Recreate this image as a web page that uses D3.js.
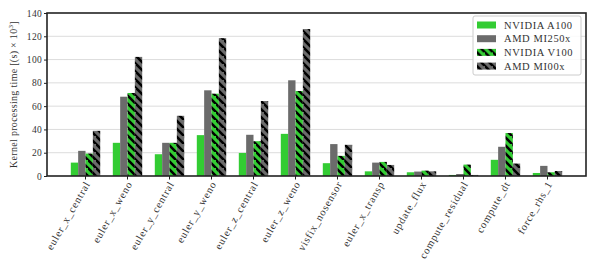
<!DOCTYPE html>
<html>
<head>
<meta charset="utf-8">
<script src="https://cdn.jsdelivr.net/npm/d3@7"></script>
<style>
  body { margin: 0; background: #fff; }
  svg text { font-family: "Liberation Serif", "DejaVu Serif", serif; fill: #333; }
</style>
</head>
<body>
<div id="chart"></div>
<script>
// kernels on the x axis
const kernels = ["euler_x_central", "euler_x_weno", "euler_y_central", "euler_y_weno",
  "euler_z_central", "euler_z_weno", "visfix_nosensor", "euler_x_transp",
  "update_flux", "compute_residual", "compute_dt", "force_rhs_1"];

const series = ["NVIDIA A100", "AMD MI250x", "NVIDIA V100", "AMD MI00x"];

// values (x 10^3)
const a100   = [11.5, 28.5, 18.7, 35.1, 19.8, 36.2, 11.0, 4.0, 3.2, 0.9, 13.9, 2.6];
const mi250x = [21.6, 68.1, 28.5, 73.6, 35.4, 82.2, 27.4, 11.5, 3.8, 1.7, 25.1, 8.7];
const v100   = [19.3, 71.3, 28.5, 70.7, 29.9, 73.0, 17.3, 12.1, 4.6, 9.8, 36.9, 3.2];
const mi00x  = [38.8, 102.3, 51.7, 118.4, 64.4, 126.2, 26.8, 9.5, 4.0, 0.9, 10.7, 4.3];

const yTicks = [0, 20, 40, 60, 80, 100, 120, 140];

const W = 597, H = 263;
const m = { left: 47, right: 11, top: 13, bottom: 87 };
const GREEN = "#33cc33", GREY = "#6b6b6b";

const svg = d3.select("#chart").append("svg")
  .attr("width", W).attr("height", H);

// hatch patterns
const defs = svg.append("defs");
[["hatchGreen", GREEN], ["hatchGrey", GREY]].forEach(([id, col]) => {
  const p = defs.append("pattern").attr("id", id)
    .attr("patternUnits", "userSpaceOnUse")
    .attr("width", 8).attr("height", 8);
  p.append("rect").attr("width", 8).attr("height", 8).attr("fill", col);
  p.append("path").attr("d", "M-2,-2 L10,10 M-6,2 L2,10 M6,-6 L14,2")
    .attr("stroke", "#000").attr("stroke-width", 2.6);
});

const fills = [GREEN, GREY, "url(#hatchGreen)", "url(#hatchGrey)"];
const values = [a100, mi250x, v100, mi00x];

const x = d3.scaleBand().domain(kernels)
  .range([m.left, W - m.right]).paddingInner(0).paddingOuter(0.417);
const xs = d3.scaleBand().domain(series)
  .range([x.bandwidth() * 0.15, x.bandwidth() * 0.85]);
const y = d3.scaleLinear().domain([0, 140]).range([H - m.bottom, m.top]);

// grid
svg.append("g")
  .selectAll("line").data(yTicks.slice(1, -1)).join("line")
  .attr("x1", m.left).attr("x2", W - m.right)
  .attr("y1", d => y(d)).attr("y2", d => y(d))
  .attr("stroke", "#dcdcdc").attr("stroke-width", 1);

// bars
series.forEach((s, si) => {
  svg.append("g").selectAll("rect").data(kernels).join("rect")
    .attr("x", (k) => x(k) + xs(s))
    .attr("width", xs.bandwidth())
    .attr("y", (k, i) => y(values[si][i]))
    .attr("height", (k, i) => y(0) - y(values[si][i]))
    .attr("fill", fills[si]);
});

// axes
const yAxis = svg.append("g")
  .attr("transform", `translate(${m.left},0)`)
  .call(d3.axisLeft(y).tickValues(yTicks).tickSize(3).tickPadding(2));
yAxis.select(".domain").remove();
yAxis.selectAll("text").style("font-size", "9.5px").style("letter-spacing", "0.3px");

const xAxis = svg.append("g")
  .attr("transform", `translate(0,${H - m.bottom})`)
  .call(d3.axisBottom(x).tickSize(3.5));
xAxis.select(".domain").remove();
xAxis.selectAll("text")
  .style("font-size", "10.5px")
  .style("letter-spacing", "0.8px")
  .attr("text-anchor", "end")
  .attr("dy", "0.35em")
  .attr("transform", "translate(2,6) rotate(-60)")
  .attr("x", 0).attr("y", 0);

svg.selectAll(".tick line").attr("stroke", "#222");

// frame
svg.append("rect")
  .attr("x", m.left).attr("y", m.top)
  .attr("width", W - m.left - m.right).attr("height", H - m.top - m.bottom)
  .attr("fill", "none").attr("stroke", "#222").attr("stroke-width", 1.6);

// y label
const yl = svg.append("text")
  .attr("transform", `translate(17,${(m.top + H - m.bottom) / 2}) rotate(-90)`)
  .attr("text-anchor", "middle")
  .style("font-size", "10px")
  .style("letter-spacing", "0.3px");
yl.append("tspan").text("Kernel processing time [(s) \u00d7 10");
yl.append("tspan").attr("dy", -4).style("font-size", "7px").text("3");
yl.append("tspan").attr("dy", 4).text("]");

// legend
const lg = svg.append("g").attr("transform", "translate(473,16)");
lg.append("rect").attr("width", 108).attr("height", 59).attr("rx", 2)
  .attr("fill", "#fff").attr("fill-opacity", 0.85)
  .attr("stroke", "#cccccc").attr("stroke-width", 1);
series.forEach((s, i) => {
  const g = lg.append("g").attr("transform", `translate(4,${9 + i * 13.7})`);
  g.append("rect").attr("x", 0).attr("y", -3.5).attr("width", 19).attr("height", 7)
    .attr("fill", fills[i]);
  g.append("text").attr("x", 27).attr("dy", "0.35em")
    .style("font-size", "10.5px").style("letter-spacing", "0.6px").text(s);
});
</script>
</body>
</html>
